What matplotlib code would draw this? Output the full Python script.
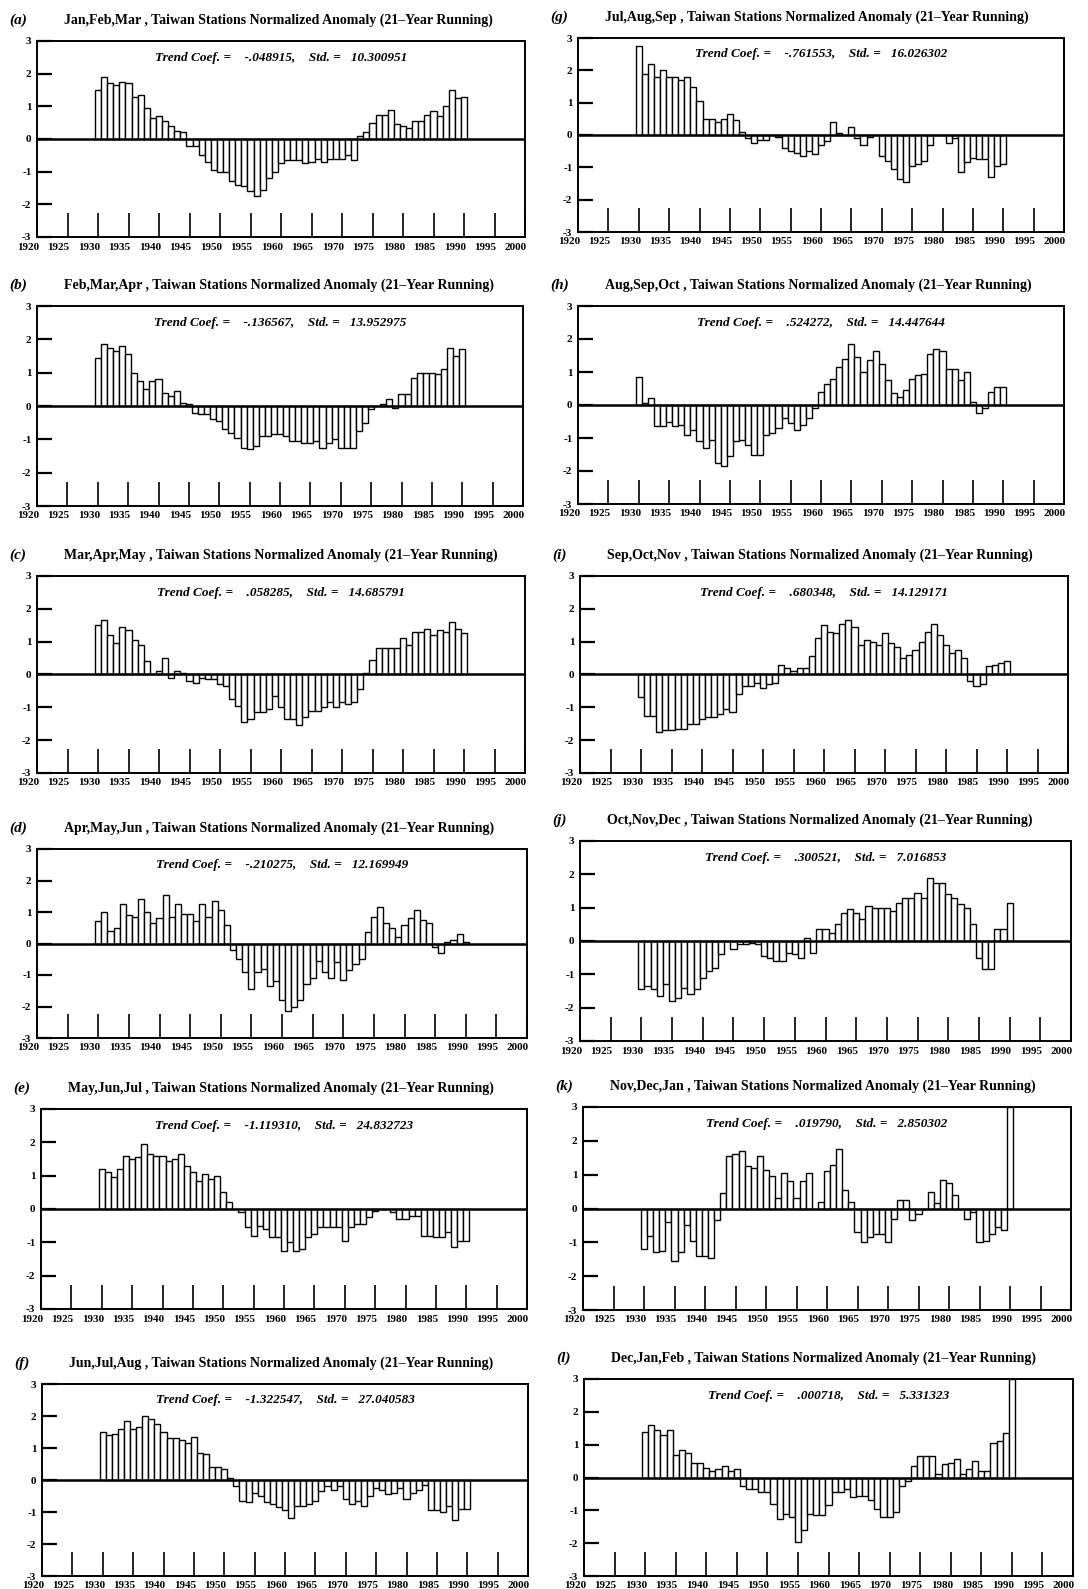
import numpy as np
import matplotlib
matplotlib.use("Agg")
import matplotlib.pyplot as plt
import matplotlib.transforms as mtransforms

plt.rcParams['axes.unicode_minus'] = False
plt.rcParams['font.family'] = ['Liberation Serif', 'DejaVu Serif']

# 21-year running normalized anomalies, one bar per year 1930..1990
years = np.arange(1930, 1991)

jfm = [1.5, 1.9, 1.7, 1.65, 1.75, 1.7, 1.3, 1.35, 0.95, 0.65,
       0.7, 0.55, 0.4, 0.25, 0.2, -0.2, -0.2, -0.5, -0.7, -0.95,
       -1.0, -1.0, -1.3, -1.4, -1.45, -1.6, -1.75, -1.55, -1.2, -1.0,
       -0.75, -0.65, -0.65, -0.65, -0.75, -0.7, -0.6, -0.7, -0.6, -0.6,
       -0.6, -0.5, -0.65, 0.1, 0.2, 0.5, 0.75, 0.75, 0.9, 0.45,
       0.4, 0.35, 0.55, 0.55, 0.75, 0.85, 0.7, 1.0, 1.5, 1.25,
       1.3]
fma = [1.45, 1.85, 1.75, 1.65, 1.8, 1.55, 1.0, 0.75, 0.5, 0.75,
       0.8, 0.4, 0.3, 0.45, 0.1, 0.05, -0.2, -0.25, -0.25, -0.4,
       -0.45, -0.7, -0.8, -0.95, -1.25, -1.3, -1.2, -0.9, -0.9, -0.85,
       -0.85, -0.9, -1.05, -1.05, -1.1, -1.1, -1.05, -1.25, -1.1, -1.0,
       -1.25, -1.25, -1.25, -0.75, -0.5, -0.1, 0.0, 0.05, 0.2, -0.05,
       0.35, 0.35, 0.85, 1.0, 1.0, 1.0, 0.95, 1.1, 1.75, 1.5,
       1.7]
mam = [1.5, 1.65, 1.2, 0.95, 1.45, 1.35, 1.05, 0.9, 0.4, 0.0,
       0.1, 0.5, -0.1, 0.1, 0.05, -0.2, -0.25, -0.1, -0.15, -0.15,
       -0.3, -0.35, -0.75, -0.95, -1.45, -1.35, -1.15, -1.15, -1.05, -0.65,
       -1.0, -1.35, -1.35, -1.55, -1.3, -1.1, -1.1, -1.0, -0.85, -1.0,
       -0.85, -0.9, -0.85, -0.45, 0.05, 0.45, 0.8, 0.8, 0.8, 0.8,
       1.1, 0.9, 1.3, 1.3, 1.4, 1.2, 1.35, 1.3, 1.6, 1.4,
       1.25]
amj = [0.7, 1.0, 0.4, 0.5, 1.25, 0.9, 0.85, 1.4, 1.0, 0.65,
       0.8, 1.55, 0.85, 1.25, 0.95, 0.95, 0.7, 1.25, 0.85, 1.35,
       1.05, 0.6, -0.2, -0.5, -0.9, -1.45, -0.9, -0.8, -1.35, -1.2,
       -1.8, -2.15, -2.0, -1.8, -1.3, -1.1, -0.55, -0.9, -1.1, -0.6,
       -1.15, -0.85, -0.65, -0.5, 0.35, 0.85, 1.15, 0.65, 0.5, 0.2,
       0.6, 0.8, 1.05, 0.75, 0.65, -0.1, -0.3, 0.05, 0.1, 0.3,
       0.05]
mjj = [1.2, 1.1, 0.95, 1.2, 1.6, 1.5, 1.55, 1.95, 1.65, 1.6,
       1.6, 1.45, 1.5, 1.65, 1.3, 1.1, 0.85, 1.05, 0.9, 1.0,
       0.5, 0.2, 0.0, -0.1, -0.55, -0.8, -0.5, -0.6, -0.85, -0.85,
       -1.25, -1.0, -1.25, -1.2, -0.85, -0.75, -0.55, -0.55, -0.55, -0.55,
       -0.95, -0.55, -0.45, -0.45, -0.25, -0.05, 0.0, 0.0, -0.1, -0.3,
       -0.3, -0.2, -0.2, -0.8, -0.8, -0.85, -0.85, -0.7, -1.15, -0.95,
       -0.95]
jja = [1.5, 1.4, 1.45, 1.6, 1.85, 1.6, 1.65, 2.0, 1.9, 1.75,
       1.5, 1.3, 1.3, 1.25, 1.15, 1.35, 0.85, 0.8, 0.4, 0.4,
       0.35, 0.05, -0.2, -0.65, -0.7, -0.4, -0.5, -0.7, -0.75, -0.85,
       -0.95, -1.2, -0.8, -0.8, -0.75, -0.65, -0.35, -0.2, -0.3, -0.2,
       -0.6, -0.75, -0.65, -0.8, -0.5, -0.25, -0.3, -0.45, -0.4, -0.25,
       -0.6, -0.4, -0.3, -0.15, -0.95, -0.95, -1.0, -0.8, -1.25, -0.9,
       -0.9]
jas = [2.75, 1.9, 2.2, 1.8, 2.0, 1.8, 1.8, 1.7, 1.8, 1.5,
       1.05, 0.5, 0.5, 0.4, 0.5, 0.65, 0.45, 0.1, -0.1, -0.25,
       -0.15, -0.15, 0.0, -0.05, -0.4, -0.5, -0.55, -0.65, -0.5, -0.6,
       -0.3, -0.2, 0.4, 0.05, 0.0, 0.25, -0.1, -0.3, -0.05, 0.0,
       -0.65, -0.8, -1.05, -1.35, -1.45, -0.95, -0.9, -0.8, -0.3, 0.0,
       0.0, -0.25, -0.1, -1.15, -0.85, -0.7, -0.75, -0.75, -1.3, -0.95,
       -0.9]
aso = [0.85, 0.05, 0.2, -0.65, -0.65, -0.5, -0.65, -0.6, -0.9, -0.75,
       -1.1, -1.3, -1.05, -1.75, -1.85, -1.55, -1.1, -1.05, -1.2, -1.5,
       -1.5, -0.9, -0.85, -0.7, -0.4, -0.55, -0.75, -0.6, -0.4, -0.1,
       0.4, 0.65, 0.8, 1.15, 1.4, 1.85, 1.45, 1.0, 1.35, 1.65,
       1.25, 0.75, 0.35, 0.25, 0.45, 0.8, 0.9, 0.95, 1.55, 1.7,
       1.65, 1.1, 1.1, 0.75, 1.0, 0.1, -0.25, -0.1, 0.4, 0.55,
       0.55]
son = [-0.7, -1.25, -1.25, -1.75, -1.7, -1.7, -1.65, -1.65, -1.5, -1.5,
       -1.35, -1.3, -1.3, -1.2, -1.05, -1.15, -0.6, -0.35, -0.35, -0.25,
       -0.4, -0.3, -0.25, 0.3, 0.2, 0.1, 0.2, 0.2, 0.55, 1.1,
       1.5, 1.3, 1.25, 1.55, 1.65, 1.45, 0.9, 1.05, 1.0, 0.9,
       1.25, 0.95, 0.85, 0.5, 0.6, 0.75, 1.0, 1.3, 1.55, 1.2,
       0.9, 0.65, 0.75, 0.5, -0.2, -0.35, -0.3, 0.25, 0.3, 0.35,
       0.4]
ond = [-1.45, -1.35, -1.45, -1.65, -1.3, -1.8, -1.7, -1.4, -1.6, -1.45,
       -1.1, -0.9, -0.8, -0.4, 0.0, -0.25, -0.1, -0.1, -0.05, -0.1,
       -0.45, -0.5, -0.6, -0.6, -0.35, -0.4, -0.5, 0.1, -0.35, 0.35,
       0.35, 0.25, 0.5, 0.85, 0.95, 0.85, 0.65, 1.05, 1.0, 1.0,
       1.0, 0.9, 1.15, 1.3, 1.3, 1.45, 1.3, 1.9, 1.75, 1.75,
       1.4, 1.3, 1.1, 1.0, 0.5, -0.5, -0.85, -0.85, 0.35, 0.35,
       1.15]
ndj = [-1.2, -0.8, -1.3, -1.25, -0.4, -1.55, -1.3, -0.5, -0.95, -1.4,
       -1.4, -1.45, -0.35, 0.45, 1.55, 1.6, 1.7, 1.25, 1.2, 1.55,
       1.15, 0.95, 0.3, 1.05, 0.8, 0.3, 0.8, 1.05, 0.0, 0.2,
       1.1, 1.3, 1.75, 0.55, 0.2, -0.7, -1.0, -0.85, -0.75, -0.75,
       -1.0, -0.3, 0.25, 0.25, -0.35, -0.15, 0.0, 0.5, 0.15, 0.85,
       0.75, 0.4, 0.0, -0.3, -0.1, -1.0, -0.95, -0.75, -0.55, -0.65,
       3.0]
djf = [1.4, 1.6, 1.45, 1.3, 1.45, 0.7, 0.85, 0.75, 0.45, 0.45,
       0.3, 0.2, 0.25, 0.35, 0.2, 0.25, -0.25, -0.35, -0.35, -0.45,
       -0.45, -0.8, -1.25, -1.1, -1.2, -1.95, -1.6, -1.1, -1.15, -1.15,
       -0.85, -0.45, -0.45, -0.35, -0.6, -0.55, -0.55, -0.7, -0.95, -1.2,
       -1.2, -1.05, -0.25, -0.1, 0.35, 0.65, 0.65, 0.65, 0.1, 0.4,
       0.45, 0.55, 0.1, 0.25, 0.5, 0.2, 0.2, 1.05, 1.1, 1.35,
       3.0]

letters = ['a', 'b', 'c', 'd', 'e', 'f', 'g', 'h', 'i', 'j', 'k', 'l']
seasons = ['Jan,Feb,Mar', 'Feb,Mar,Apr', 'Mar,Apr,May', 'Apr,May,Jun',
           'May,Jun,Jul', 'Jun,Jul,Aug', 'Jul,Aug,Sep', 'Aug,Sep,Oct',
           'Sep,Oct,Nov', 'Oct,Nov,Dec', 'Nov,Dec,Jan', 'Dec,Jan,Feb']
trend_coefs = ['-.048915', '-.136567', '.058285', '-.210275', '-1.119310', '-1.322547',
               '-.761553', '.524272', '.680348', '.300521', '.019790', '.000718']
stds = ['10.300951', '13.952975', '14.685791', '12.169949', '24.832723', '27.040583',
        '16.026302', '14.447644', '14.129171', '7.016853', '2.850302', '5.331323']
series = [jfm, fma, mam, amj, mjj, jja, jas, aso, son, ond, ndj, djf]

x_ticks = list(range(1920, 2001, 5))
y_ticks = [-3, -2, -1, 0, 1, 2, 3]

W, H = 1088, 1589

# axes boxes in pixels: left, top, right, bottom
boxes = [(37, 41, 525, 237), (37, 306, 523, 506), (37, 576, 525, 773),
         (37, 849, 527, 1038), (41, 1109, 527, 1309), (42, 1384, 528, 1576),
         (578, 38, 1064, 232), (578, 306, 1064, 504), (580, 576, 1068, 773),
         (580, 841, 1071, 1041), (583, 1107, 1071, 1310), (584, 1379, 1073, 1576)]


def drawPanel(fig, box, letter, season, coef, std, values):
    l, t, r, b = box
    ax = fig.add_axes([l / W, 1 - b / H, (r - l) / W, (b - t) / H])
    assert len(values) == len(years)

    ax.bar(years, values, width=1.0, color='white', edgecolor='black', linewidth=1.0, zorder=2)
    ax.axhline(0, color='black', linewidth=1.8, zorder=3)

    ax.set_xlim(1920, 2000)
    ax.set_ylim(-3, 3)
    ax.set_xticks(x_ticks)
    ax.set_yticks(y_ticks)
    ax.set_xticklabels([])
    ax.set_yticklabels([str(v) for v in y_ticks], fontsize=8, fontweight='bold')
    ax.tick_params(axis='x', direction='in', length=17, width=1.2)
    ax.tick_params(axis='y', direction='in', length=11, width=1.6, pad=4)
    for sp in ax.spines.values():
        sp.set_linewidth(1.4)

    # year labels sit a little left of their ticks in the original
    offset = mtransforms.ScaledTranslation(-0.09, -0.055, fig.dpi_scale_trans)
    for yr in x_ticks:
        ax.text(yr, 0, str(yr), transform=ax.get_xaxis_transform() + offset,
                ha='center', va='top', fontsize=8, fontweight='bold')

    ax.text(0.5, 0.915, f"Trend Coef. =    {coef},    Std. =   {std}", transform=ax.transAxes,
            ha='center', va='center', fontsize=9.5, fontweight='bold', fontstyle='italic')

    fig.text((l - 28) / W, 1 - (t - 21) / H, f"({letter})", ha='left', va='center',
             fontsize=11, fontstyle='italic', fontweight='bold')
    fig.text((l + 27) / W, 1 - (t - 21) / H,
             f"{season} , Taiwan Stations Normalized Anomaly (21\u2013Year Running)",
             ha='left', va='center', fontsize=10, fontweight='bold')
    return ax


fig = plt.figure(figsize=(W / 100, H / 100), dpi=100)
for i in range(12):
    drawPanel(fig, boxes[i], letters[i], seasons[i], trend_coefs[i], stds[i], series[i])

fig.savefig('out.png', dpi=100)
